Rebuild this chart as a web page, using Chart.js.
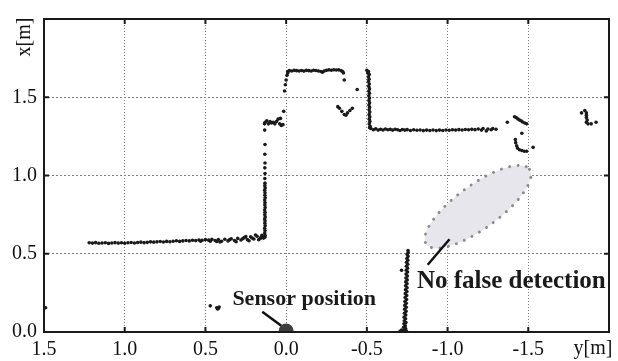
<!DOCTYPE html>
<html>
<head>
<meta charset="utf-8">
<script src="https://cdn.jsdelivr.net/npm/chart.js@4"></script>
<style>
  html, body { margin: 0; padding: 0; background: #fff; }
  canvas { display: block; }
</style>
</head>
<body>
<canvas id="scan" width="618" height="361"></canvas>
<script>
// scan points, [y, x] in metres (horizontal axis is y, vertical axis is x)
const wallNear = [
  [1.22,0.570],[1.20,0.568],[1.18,0.571],[1.16,0.567],[1.14,0.569],[1.12,0.570],[1.10,0.566],
  [1.08,0.569],[1.06,0.571],[1.04,0.568],[1.02,0.570],[1.00,0.567],[0.98,0.570],[0.96,0.572],
  [0.94,0.569],[0.92,0.572],[0.90,0.574],[0.88,0.571],[0.86,0.573],[0.84,0.576],[0.82,0.574],
  [0.80,0.576],[0.78,0.578],[0.76,0.575],[0.74,0.579],[0.72,0.577],[0.70,0.580],[0.68,0.583],
  [0.66,0.579],[0.64,0.582],[0.62,0.585],[0.60,0.582],[0.58,0.586],[0.56,0.584],[0.54,0.588],
  [0.53,0.580],[0.52,0.586],[0.50,0.590],[0.48,0.587],[0.47,0.580],[0.46,0.592],[0.44,0.585],
  [0.43,0.578],[0.42,0.591],[0.41,0.575],[0.40,0.580],[0.38,0.593],[0.36,0.582],[0.35,0.590],
  [0.34,0.596],[0.32,0.585],[0.31,0.577],[0.30,0.598],[0.28,0.588],[0.27,0.596],[0.26,0.603],
  [0.25,0.610],[0.24,0.590],[0.23,0.583],[0.22,0.608],[0.21,0.600],[0.20,0.594],[0.19,0.620],
  [0.18,0.612],[0.17,0.590],[0.16,0.598],[0.155,0.605],[0.15,0.618],[0.145,0.612],[0.14,0.600]
];
const wallNearEdge = [
  [0.132,0.605],[0.130,0.617],[0.133,0.632],[0.131,0.648],[0.133,0.663],[0.130,0.679],
  [0.132,0.695],[0.131,0.710],[0.133,0.722],[0.130,0.735],[0.132,0.750],[0.131,0.765],
  [0.133,0.780],[0.130,0.796],[0.132,0.812],[0.131,0.827],[0.133,0.843],[0.130,0.858],
  [0.132,0.874],[0.131,0.889],[0.133,0.905],[0.130,0.920],[0.132,0.935],[0.131,0.951],
  [0.132,0.981],[0.131,1.012],[0.132,1.049],[0.131,1.080],[0.132,1.136],[0.131,1.198],
  [0.133,1.290],[0.134,1.330]
];
const ledge = [
  [0.13,1.340],[0.12,1.350],[0.11,1.330],[0.10,1.345],[0.09,1.335],[0.08,1.340],[0.07,1.330],
  [0.06,1.345],[0.05,1.360],[0.04,1.330],[0.03,1.320],[0.02,1.325],[0.035,1.365],[0.015,1.410]
];
const riseEdge = [
  [0.010,1.540],[0.005,1.580],[0.000,1.610],[-0.005,1.640],[-0.010,1.655]
];
const wallFar = [
  [-0.010,1.665],[-0.020,1.670],[-0.035,1.668],[-0.050,1.672],[-0.065,1.670],[-0.080,1.668],
  [-0.095,1.671],[-0.110,1.667],[-0.125,1.672],[-0.140,1.670],[-0.155,1.668],[-0.170,1.673],
  [-0.185,1.671],[-0.200,1.668],[-0.215,1.665],[-0.225,1.660],[-0.235,1.668],[-0.250,1.672],
  [-0.265,1.675],[-0.280,1.673],[-0.295,1.676],[-0.310,1.674],[-0.325,1.675],[-0.340,1.670],
  [-0.350,1.665],[-0.355,1.655]
];
const notch = [
  [-0.360,1.610],[-0.440,1.550],
  [-0.320,1.440],[-0.330,1.430],[-0.345,1.410],[-0.360,1.390],[-0.370,1.385],[-0.380,1.400],
  [-0.395,1.415],[-0.410,1.430]
];
const wallFarEdge = [
  [-0.500,1.672],[-0.510,1.664],[-0.505,1.655],[-0.515,1.645],[-0.510,1.630],[-0.514,1.615],
  [-0.510,1.600],[-0.515,1.585],[-0.511,1.570],[-0.516,1.555],[-0.512,1.540],[-0.516,1.525],
  [-0.512,1.510],[-0.516,1.495],[-0.513,1.480],[-0.517,1.465],[-0.513,1.450],[-0.517,1.435],
  [-0.514,1.420],[-0.518,1.405],[-0.514,1.390],[-0.518,1.375],[-0.515,1.360],[-0.519,1.345],
  [-0.515,1.330],[-0.520,1.315],[-0.517,1.305]
];
const wallMid = [
  [-0.525,1.300],[-0.540,1.292],[-0.555,1.298],[-0.570,1.290],[-0.585,1.296],[-0.600,1.291],
  [-0.615,1.297],[-0.630,1.292],[-0.645,1.295],[-0.660,1.290],[-0.675,1.296],[-0.690,1.292],
  [-0.705,1.288],[-0.720,1.294],[-0.735,1.290],[-0.750,1.293],[-0.770,1.288],[-0.790,1.292],
  [-0.810,1.289],[-0.830,1.291],[-0.850,1.287],[-0.870,1.290],[-0.890,1.288],[-0.910,1.291],
  [-0.930,1.287],[-0.950,1.290],[-0.970,1.288],[-0.990,1.291],[-1.010,1.289],[-1.030,1.292],
  [-1.050,1.290],[-1.070,1.293],[-1.090,1.291],[-1.110,1.294],[-1.130,1.292],[-1.150,1.295],
  [-1.170,1.293],[-1.190,1.297],[-1.210,1.290],[-1.220,1.300],[-1.240,1.285],[-1.250,1.297],
  [-1.270,1.292],[-1.280,1.300],[-1.300,1.296]
];
const clutter = [
  [-1.370,1.340],[-1.415,1.375],[-1.425,1.370],[-1.435,1.362],[-1.445,1.355],[-1.455,1.350],
  [-1.465,1.342],[-1.478,1.335],[-1.490,1.330],[-1.460,1.270],
  [-1.420,1.230],[-1.422,1.210],[-1.428,1.190],[-1.433,1.175],[-1.445,1.165],[-1.460,1.160],
  [-1.475,1.155],[-1.490,1.155],[-1.530,1.180]
];
const farCluster = [
  [-1.830,1.400],[-1.850,1.415],[-1.860,1.400],[-1.860,1.385],[-1.860,1.370],[-1.865,1.355],
  [-1.860,1.340],[-1.870,1.330],[-1.890,1.330],[-1.920,1.340]
];
const legSpike = [
  [-0.705,0.005],[-0.715,0.012],[-0.725,0.008],[-0.735,0.015],[-0.745,0.006],[-0.740,0.022],
  [-0.728,0.030],[-0.738,0.040],[-0.730,0.052],[-0.742,0.060],[-0.732,0.072],[-0.740,0.085],
  [-0.731,0.095],[-0.741,0.108],[-0.733,0.120],[-0.743,0.132],[-0.734,0.145],[-0.744,0.158],
  [-0.735,0.170],[-0.744,0.183],[-0.736,0.195],[-0.746,0.208],[-0.737,0.220],[-0.747,0.233],
  [-0.738,0.245],[-0.748,0.258],[-0.739,0.270],[-0.749,0.283],[-0.740,0.295],[-0.749,0.308],
  [-0.741,0.320],[-0.750,0.333],[-0.742,0.345],[-0.751,0.358],[-0.743,0.370],[-0.752,0.383],
  [-0.744,0.395],[-0.752,0.408],[-0.745,0.420],[-0.753,0.433],[-0.746,0.445],[-0.754,0.458],
  [-0.748,0.470],[-0.755,0.483],[-0.750,0.495],[-0.756,0.508],[-0.755,0.520],[-0.715,0.395]
];
const strayPoints = [
  [1.490,0.155],[0.470,0.167],[0.430,0.155],[0.420,0.150],[0.415,0.160],[0.425,0.147]
];

const yTicksH = [1.5, 1.0, 0.5, 0.0, -0.5, -1.0, -1.5];   // horizontal axis
const xTicksV = [0.0, 0.5, 1.0, 1.5];                     // vertical axis
const hAxisTitle = 'y[m]';
const vAxisTitle = 'x[m]';

// annotations, in data coordinates
const sensor = { y: 0, x: 0, label: 'Sensor position', textAt: [0.333, 0.21], lineFrom: [0.148, 0.13], lineTo: [0.03, 0.04] };
const falseZone = { y: -1.188, x: 0.80, a: 0.395, b: 0.135, angle: 36,
  label: 'No false detection', textAt: [-0.81, 0.32], lineFrom: [-0.877, 0.43], lineTo: [-1.012, 0.593] };

const allPoints = [].concat(wallNear, wallNearEdge, ledge, riseEdge, wallFar, notch,
  wallFarEdge, wallMid, clutter, farCluster, legSpike, strayPoints);

const serif = "'Liberation Serif', 'Times New Roman', serif";

const decor = {
  id: 'decor',
  beforeDatasetsDraw(chart) {
    const { ctx, scales: { x, y } } = chart;
    const ppm = Math.abs(x.getPixelForValue(1) - x.getPixelForValue(0));
    ctx.save();
    ctx.translate(x.getPixelForValue(falseZone.y), y.getPixelForValue(falseZone.x));
    ctx.rotate(-falseZone.angle * Math.PI / 180);
    ctx.beginPath();
    ctx.ellipse(0, 0, falseZone.a * ppm, falseZone.b * ppm, 0, 0, Math.PI * 2);
    ctx.fillStyle = '#e6e6ec';
    ctx.fill();
    ctx.setLineDash([0, 8.5]);
    ctx.lineCap = 'round';
    ctx.lineWidth = 3;
    ctx.strokeStyle = '#8c8c8c';
    ctx.stroke();
    ctx.restore();
  },
  afterDraw(chart) {
    const { ctx, chartArea: a, scales: { x, y } } = chart;
    ctx.save();
    // frame
    ctx.strokeStyle = '#1a1a1a';
    ctx.lineWidth = 2;
    ctx.strokeRect(a.left, a.top, a.right - a.left, a.bottom - a.top);
    // inward ticks
    ctx.beginPath();
    yTicksH.forEach(v => {
      const px = x.getPixelForValue(v);
      ctx.moveTo(px, a.bottom); ctx.lineTo(px, a.bottom - 5);
      ctx.moveTo(px, a.top); ctx.lineTo(px, a.top + 5);
    });
    xTicksV.forEach(v => {
      const py = y.getPixelForValue(v);
      ctx.moveTo(a.left, py); ctx.lineTo(a.left + 5, py);
      ctx.moveTo(a.right, py); ctx.lineTo(a.right - 5, py);
    });
    ctx.stroke();

    // axis titles
    ctx.fillStyle = '#111';
    ctx.font = '20px ' + serif;
    ctx.textAlign = 'center';
    ctx.textBaseline = 'middle';
    ctx.fillText(hAxisTitle, a.right - 16, 349);
    ctx.save();
    ctx.translate(25, a.top + 18);
    ctx.rotate(-Math.PI / 2);
    ctx.fillText(vAxisTitle, 0, 0);
    ctx.restore();

    // leader lines
    ctx.strokeStyle = '#111';
    ctx.lineWidth = 2.5;
    [sensor, falseZone].forEach(n => {
      ctx.beginPath();
      ctx.moveTo(x.getPixelForValue(n.lineFrom[0]), y.getPixelForValue(n.lineFrom[1]));
      ctx.lineTo(x.getPixelForValue(n.lineTo[0]), y.getPixelForValue(n.lineTo[1]));
      ctx.stroke();
    });

    // sensor marker
    ctx.beginPath();
    ctx.arc(x.getPixelForValue(sensor.y), y.getPixelForValue(sensor.x) - 1, 7.5, Math.PI, 0);
    ctx.closePath();
    ctx.fillStyle = '#3f3f3f';
    ctx.fill();

    // labels
    ctx.fillStyle = '#1a1a1a';
    ctx.textAlign = 'left';
    ctx.font = 'bold 22px ' + serif;
    ctx.fillText(sensor.label, x.getPixelForValue(sensor.textAt[0]), y.getPixelForValue(sensor.textAt[1]));
    ctx.font = 'bold 25px ' + serif;
    ctx.fillText(falseZone.label, x.getPixelForValue(falseZone.textAt[0]), y.getPixelForValue(falseZone.textAt[1]));
    ctx.restore();
  }
};

new Chart(document.getElementById('scan'), {
  type: 'scatter',
  data: {
    datasets: [{
      data: allPoints.map(p => ({ x: p[0], y: p[1] })),
      pointRadius: 1.8,
      pointBackgroundColor: '#1a1a1a',
      pointBorderWidth: 0,
      showLine: false
    }]
  },
  options: {
    responsive: false,
    animation: false,
    devicePixelRatio: 1,
    layout: { padding: { top: 9, right: 9, left: 0, bottom: 0 } },
    plugins: { legend: { display: false }, tooltip: { enabled: false } },
    scales: {
      x: {
        type: 'linear',
        min: -2.0,
        max: 1.5,
        reverse: true,
        afterBuildTicks: s => { s.ticks = yTicksH.map(v => ({ value: v })); },
        afterFit: s => { s.height = 29; },
        ticks: {
          autoSkip: false,
          maxRotation: 0,
          padding: 6,
          color: '#111',
          font: { family: serif, size: 20 },
          callback: v => Number(v).toFixed(1)
        },
        grid: { color: '#808080', lineWidth: 1, drawTicks: false },
        border: { display: false, dash: [1, 2] }
      },
      y: {
        type: 'linear',
        min: 0,
        max: 2.0,
        afterBuildTicks: s => { s.ticks = xTicksV.map(v => ({ value: v })); },
        afterFit: s => { s.width = 44; },
        ticks: {
          autoSkip: false,
          padding: 7,
          color: '#111',
          font: { family: serif, size: 20 },
          callback: v => Number(v).toFixed(1)
        },
        grid: { color: '#808080', lineWidth: 1, drawTicks: false },
        border: { display: false, dash: [2, 2] }
      }
    }
  },
  plugins: [decor]
});
</script>
</body>
</html>
